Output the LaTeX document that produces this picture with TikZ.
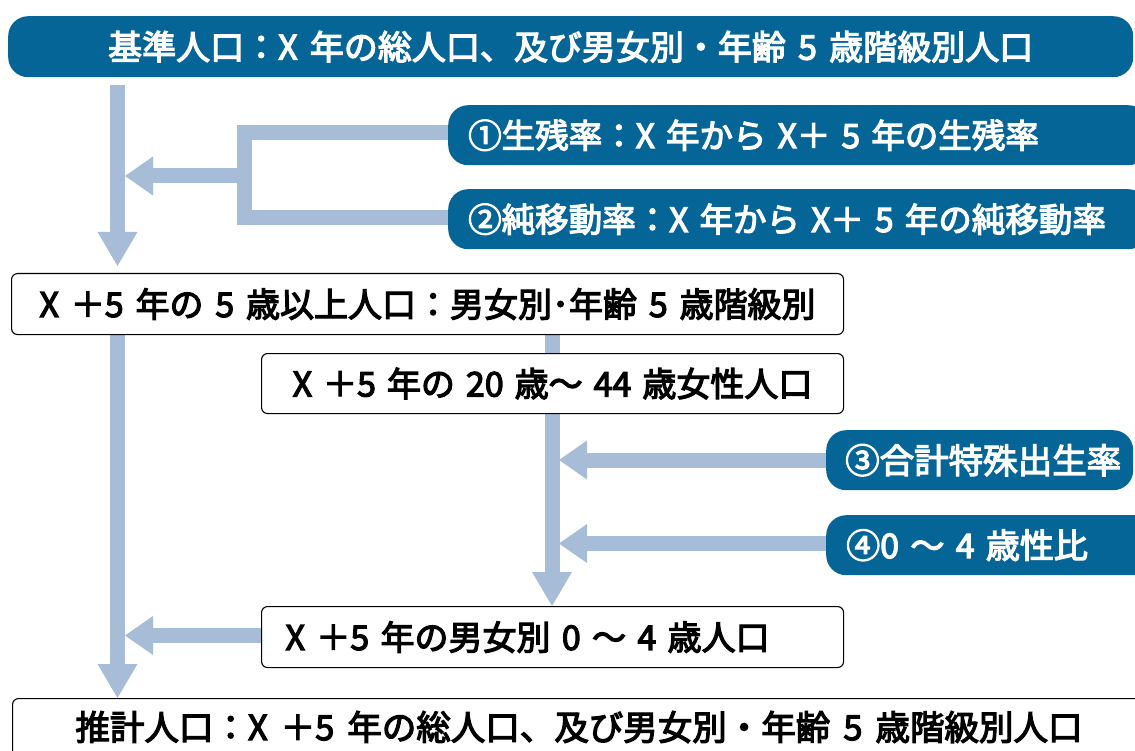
\documentclass[tikz,border=0pt]{standalone}
\usepackage{fontspec}
\setmainfont{Noto Sans CJK JP}
\usetikzlibrary{arrows.meta}
\definecolor{dblue}{HTML}{056597}
\definecolor{lblue}{HTML}{A7BDD7}
\pgfdeclarelayer{bg}
\pgfsetlayers{bg,main}
\newcommand{\fs}[2]{\fontsize{#1}{#1}\selectfont\spaceskip=#2em\relax\special{pdf:literal direct 2 Tr 1.2 w}}
\tikzset{
  banner/.style={fill=dblue, rounded corners=20pt, text=white, inner sep=0pt, anchor=north west},
  whitebox/.style={draw=black, line width=1.1pt, fill=white, rounded corners=6pt, inner sep=0pt, anchor=north west},
  vflow/.style={draw=lblue, line width=15pt, -{Triangle[width=40pt,length=34pt,line width=0pt 0]}},
  hflow/.style={draw=lblue, line width=15pt, -{Triangle[width=39pt,length=28pt,line width=0pt 0]}},
  bar/.style={draw=lblue, line width=15pt, line join=miter},
}
\begin{document}
\begin{tikzpicture}[x=1pt,y=-1pt]
\useasboundingbox (0,0) rectangle (1135,751);
\clip (0,0) rectangle (1135,751);
% blue banners
\node[banner, minimum width=1125pt, minimum height=61pt, font=\fs{34}{0.36}] (top) at (8,16) {基準人口：X 年の総人口、及び男女別・年齢 5 歳階級別人口};
\node[banner, minimum width=700pt, minimum height=60pt, text width=660pt, align=left, font=\fs{33.5}{0.4}] (r1) at (448,105) {①生残率：X 年から X＋ 5 年の生残率};
\node[banner, minimum width=700pt, minimum height=60pt, text width=660pt, align=left, font=\fs{33.5}{0.47}] (r2) at (448,189) {②純移動率：X 年から X＋ 5 年の純移動率};
\node[banner, minimum width=307pt, minimum height=60pt, text width=269pt, align=left, font=\fs{34.5}{0.3}] (r3) at (826,430) {③合計特殊出生率};
\node[banner, minimum width=330pt, minimum height=60pt, text width=290pt, align=left, font=\fs{34}{0.52}] (r4) at (826,515) {④0 ～ 4 歳性比};
% white boxes
\node[whitebox, minimum width=832pt, minimum height=61pt, font=\fs{34}{0.348}] (b2) at (11,273) {X ＋5 年の 5 歳以上人口：男女別･年齢 5 歳階級別};
\node[whitebox, minimum width=582pt, minimum height=60pt, font=\fs{34}{0.323}] (b5) at (261,353) {X ＋5 年の 20 歳～ 44 歳女性人口};
\node[whitebox, minimum width=582pt, minimum height=61pt, text width=534pt, align=left, font=\fs{34}{0.354}] (b8) at (261,606) {X ＋5 年の男女別 0 ～ 4 歳人口};
\node[whitebox, minimum width=1140pt, minimum height=90pt] (b9) at (12,698) {};
\node[font=\fs{34.5}{0.377}, inner sep=0pt] (t9) at (579,727) {推計人口：X ＋5 年の総人口、及び男女別・年齢 5 歳階級別人口};
% junction coordinates
\coordinate (j1) at (125,176);
\coordinate (j2) at (125,636);
\coordinate (j3) at (559,460);
\coordinate (j4) at (559,545);
\begin{pgfonlayer}{bg}
  \draw[vflow, shorten <=8pt, shorten >=7pt] (top.south -| 117.5,0) -- (b2.north -| 117.5,0);
  \draw[vflow] (b2.south -| 117.5,0) -- (b9.north -| 117.5,0);
  \draw[vflow] (b2.south -| 552,0) -- (b8.north -| 552,0);
  \draw[bar] (r1.west |- 0,133) -- (244,133) -- (244,218) -- (r2.west |- 0,218);
  \draw[hflow] (244,176) -- (j1);
  \draw[hflow] (r3.west |- j3) -- (j3);
  \draw[hflow] (r4.west |- 0,543.5) -- (j4 |- 0,543.5);
  \draw[hflow] (b8.west |- 0,635.5) -- (j2 |- 0,635.5);
\end{pgfonlayer}
\end{tikzpicture}
\end{document}
